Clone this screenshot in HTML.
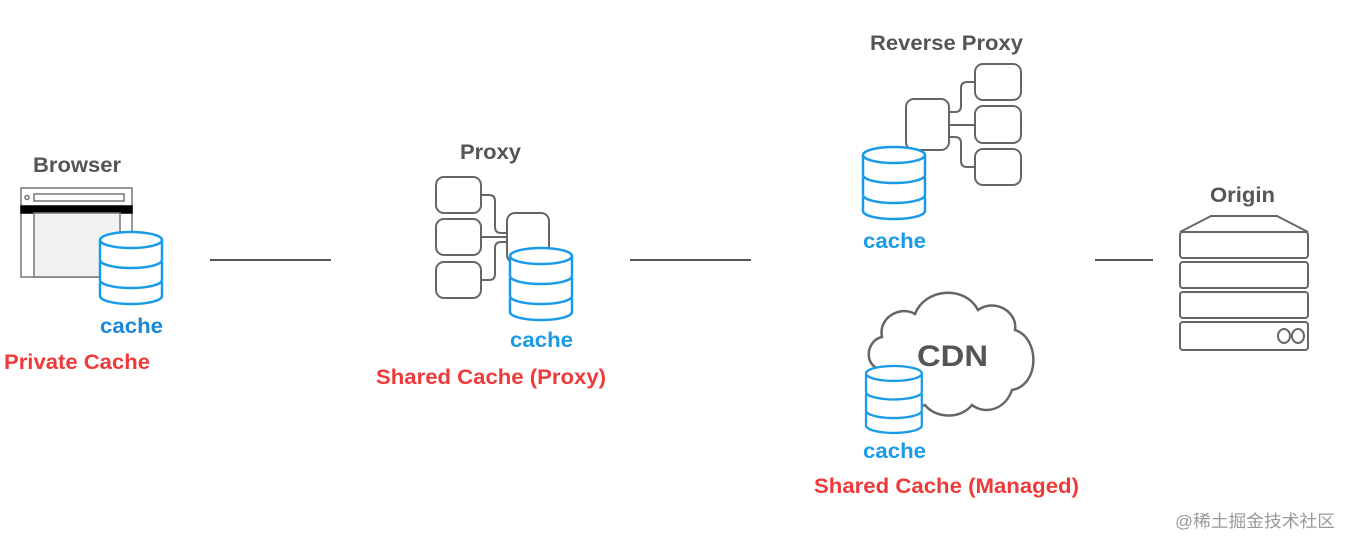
<!DOCTYPE html>
<html><head><style>
body{margin:0;background:#fff;}
svg{display:block;font-family:"Liberation Sans",Arial,sans-serif;font-weight:bold;}
</style></head><body>
<svg width="1352" height="548" viewBox="0 0 1352 548" xmlns="http://www.w3.org/2000/svg">
<defs>
<g id="db" fill="#fff" stroke="#1a9be8" stroke-width="2.5">
  <path d="M0,50 v14 a31,8 0 0 0 62,0 v-14"/>
  <path d="M0,30 v18 a31,8 0 0 0 62,0 v-18"/>
  <path d="M0,8 v20 a31,8 0 0 0 62,0 v-20"/>
  <ellipse cx="31" cy="8" rx="31" ry="8"/>
</g>
</defs>
<g fill="none" stroke="#555" stroke-width="2">
  <line x1="210" y1="260" x2="331" y2="260"/>
  <line x1="630" y1="260" x2="751" y2="260"/>
  <line x1="1095" y1="260" x2="1153" y2="260"/>
</g>
<!-- Browser -->
<text x="33" y="172" font-size="21" fill="#555" textLength="88" lengthAdjust="spacingAndGlyphs">Browser</text>
<g stroke="#777" stroke-width="1.5" fill="#fff">
  <rect x="21" y="188" width="111" height="89"/>
  <rect x="34" y="194" width="90" height="7"/>
  <circle cx="27" cy="197.5" r="2"/>
  <rect x="21" y="206" width="111" height="7" fill="#000" stroke="#000"/>
  <rect x="34" y="213" width="86" height="64" fill="#f2f2f2"/>
</g>
<use href="#db" x="100" y="232"/>
<text x="100" y="333" font-size="21" fill="#1a86d8" textLength="63" lengthAdjust="spacingAndGlyphs">cache</text>
<text x="4" y="369" font-size="21" fill="#f03a3a" textLength="146" lengthAdjust="spacingAndGlyphs">Private Cache</text>
<!-- Proxy -->
<text x="460" y="159" font-size="21" fill="#555" textLength="61" lengthAdjust="spacingAndGlyphs">Proxy</text>
<g stroke="#666" stroke-width="2" fill="#fff">
  <path d="M481,195 h8 q6,0 6,6 v26 q0,6 6,6 h6 M481,237 h26 M481,280 h8 q6,0 6,-6 v-26 q0,-6 6,-6 h6" fill="none"/>
  <rect x="436" y="177" width="45" height="36" rx="8"/>
  <rect x="436" y="219" width="45" height="36" rx="8"/>
  <rect x="436" y="262" width="45" height="36" rx="8"/>
  <rect x="507" y="213" width="42" height="50" rx="8"/>
</g>
<use href="#db" x="510" y="248"/>
<text x="510" y="347" font-size="21" fill="#1a9be8" textLength="63" lengthAdjust="spacingAndGlyphs">cache</text>
<text x="376" y="384" font-size="21" fill="#f03a3a" textLength="230" lengthAdjust="spacingAndGlyphs">Shared Cache (Proxy)</text>
<!-- Reverse proxy -->
<text x="870" y="50" font-size="21" fill="#555" textLength="153" lengthAdjust="spacingAndGlyphs">Reverse Proxy</text>
<g stroke="#666" stroke-width="2" fill="#fff">
  <path d="M949,112 h6 q6,0 6,-6 v-18 q0,-6 6,-6 h8 M949,125 h26 M949,137 h6 q6,0 6,6 v18 q0,6 6,6 h8" fill="none"/>
  <rect x="906" y="99" width="43" height="51" rx="8"/>
  <rect x="975" y="64" width="46" height="36" rx="8"/>
  <rect x="975" y="106" width="46" height="37" rx="8"/>
  <rect x="975" y="149" width="46" height="36" rx="8"/>
</g>
<use href="#db" x="863" y="147"/>
<text x="863" y="248" font-size="21" fill="#1a9be8" textLength="63" lengthAdjust="spacingAndGlyphs">cache</text>
<!-- CDN cloud -->
<path d="M884,370 C862,368 866,340 882,337 C878,318 900,305 915,314 C925,288 965,285 978,310 C995,298 1018,312 1015,330 C1040,338 1040,385 1012,390 C1005,410 985,415 972,405 C960,420 935,418 925,405 C905,412 890,398 884,390 Z" fill="#fff" stroke="#666" stroke-width="2.5"/>
<text x="917" y="366" font-size="30" fill="#555" textLength="71" lengthAdjust="spacingAndGlyphs">CDN</text>
<g transform="translate(866,366) scale(0.9,0.93)"><use href="#db"/></g>
<text x="863" y="458" font-size="21" fill="#1a9be8" textLength="63" lengthAdjust="spacingAndGlyphs">cache</text>
<text x="814" y="493" font-size="21" fill="#f03a3a" textLength="265" lengthAdjust="spacingAndGlyphs">Shared Cache (Managed)</text>
<!-- Origin -->
<text x="1210" y="202" font-size="21" fill="#555" textLength="65" lengthAdjust="spacingAndGlyphs">Origin</text>
<g stroke="#666" stroke-width="2" fill="#fff">
  <path d="M1180,232 L1211,216 H1277 L1308,232"/>
  <rect x="1180" y="232" width="128" height="26" rx="3"/>
  <rect x="1180" y="262" width="128" height="26" rx="3"/>
  <rect x="1180" y="292" width="128" height="26" rx="3"/>
  <rect x="1180" y="322" width="128" height="28" rx="3"/>
  <ellipse cx="1284" cy="336" rx="6" ry="7"/>
  <ellipse cx="1298" cy="336" rx="6" ry="7"/>
</g>
<text x="1175" y="527" font-size="17" font-weight="normal" fill="#999" font-family="'Liberation Sans','Noto Sans CJK SC',sans-serif" textLength="160" lengthAdjust="spacingAndGlyphs">@稀土掘金技术社区</text>
</svg>
</body></html>
